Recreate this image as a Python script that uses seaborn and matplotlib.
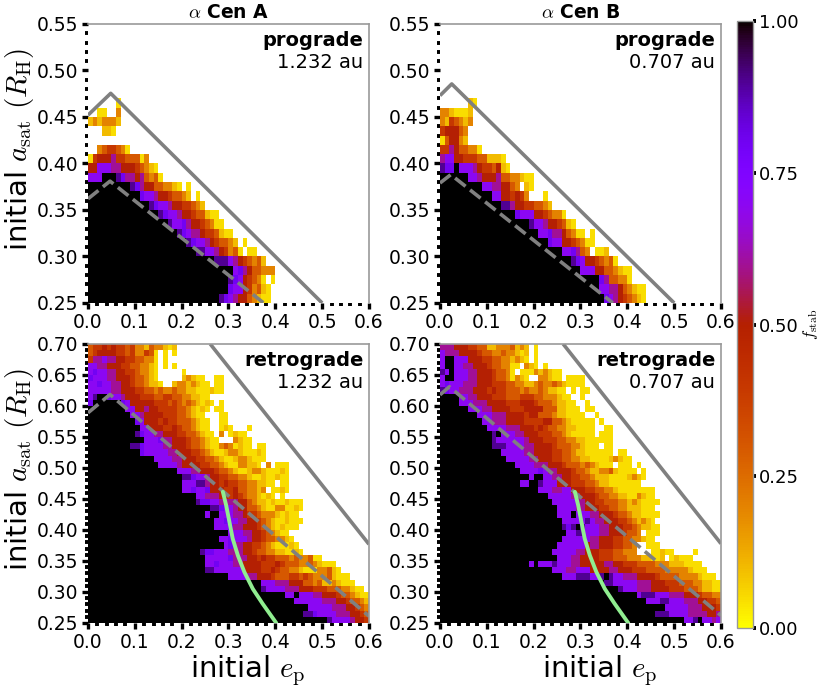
import numpy as np
import pandas as pd
import matplotlib
matplotlib.use("Agg")
import matplotlib.pyplot as plt
import seaborn as sns

sns.set_style("ticks")
plt.rcParams["font.family"] = ["DejaVu Sans"]
plt.rcParams["mathtext.fontset"] = "cm"
plt.rcParams["text.color"] = "black"
plt.rcParams["axes.labelcolor"] = "black"
plt.rcParams["xtick.color"] = "black"
plt.rcParams["ytick.color"] = "black"

# grid: e_p from 0 to 0.6, a_sat from 0.25 up, cells of 0.01 x 0.01
# codes: '.' = no value, 'X' = 1.0, digit d = d/10 ('0' ~ 0)
E_TICKS = [0.0, 0.1, 0.2, 0.3, 0.4, 0.5, 0.6]
A_TICKS_PRO = [0.25, 0.30, 0.35, 0.40, 0.45, 0.50, 0.55]
A_TICKS_RETRO = [0.25, 0.30, 0.35, 0.40, 0.45, 0.50, 0.55, 0.60, 0.65, 0.70]
CBAR_TICKS = [0.0, 0.25, 0.50, 0.75, 1.0]
STARS = [r"$\alpha$ Cen A", r"$\alpha$ Cen B"]
SEPARATIONS = ["1.232 au", "0.707 au"]

# prograde, alpha Cen A (top row first, a = 0.55 -> 0.25)
pro_a_rows = [
    "", "", "", "", "", "", "", "",
    "......0",
    "..00..2",
    "1212221",
    "...110",
    "",
    "..2344320",
    "0455564433302",
    "557776655543210",
    "777XXX9866563230",
    "X" * 9 + "98655332210.0",
    "X" * 11 + "87765543321.0",
    "X" * 13 + "987765544321",
    "X" * 15 + "9877655433100",
    "X" * 17 + "977865543200",
    "X" * 19 + "987665443100",
    "X" * 21 + "98776543321.0",
    "X" * 23 + "9977654230.00",
    "X" * 27 + "99976543231",
    "X" * 31 + "786533222",
    "X" * 30 + "98754320.0",
    "X" * 30 + "877542310",
    "X" * 28 + "98765532100",
]

# prograde, alpha Cen B
pro_b_rows = [
    "", "", "", "", "", "", "", "",
    "......10",
    "2210001",
    "2143212",
    "455532",
    "035521",
    "446533220",
    "67755444331110",
    "988X77765443510",
    "X" * 6 + "77655563322100",
    "X" * 9 + "77665532.10",
    "X" * 11 + "77554542...0",
    "X" * 13 + "99655443321",
    "X" * 16 + "87775543220",
    "X" * 19 + "9776554310",
    "X" * 21 + "7786653200.0",
    "X" * 23 + "8775543200",
    "X" * 26 + "778632.001",
    "X" * 28 + "9875543230",
    "X" * 30 + "77755332100",
    "X" * 34 + "8633220",
    "X" * 34 + "7766532100",
    "X" * 35 + "876543210",
]

# retrograde, alpha Cen A (a = 0.70 -> 0.25)
retro_a_rows = [
    "3445454434221322101",
    "345555443422430.0.0",
    "466766554433220.0",
    "776655544332210.0.0",
    "787766554432210.....0",
    "877766555433210.....12100..00",
    "7787766554332110..12212100.00",
    "77777665554433232232211000100",
    "79XX8776555444334433221100",
    "8XXXXXX87555554443432321010.0",
    "XXXXXXXX775565544443321010.00",
    "X" * 9 + "7765555444332100...00",
    "X" * 10 + "8755545443332100..00",
    "X" * 11 + "775554454332100..010...0",
    "X" * 10 + "98776655544332100.2.0100",
    "X" * 12 + "7778665554332100...2100",
    "X" * 9 + "99877776655543321002320100.00",
    "X" * 11 + "877777665554432100122100010",
    "X" * 14 + "777766555443321001221000",
    "X" * 15 + "7777655554433210022110.2.000",
    "X" * 19 + "777665554332100122100010",
    "X" * 20 + "99877655443322100100100",
    "X" * 20 + "77799655454433221100.00",
    "X" * 20 + "778778555445332212.0010",
    "X" * 23 + "77666554543221010.0",
    "X" * 23 + "98877666655321101001000",
    "X" * 26 + "99877655332100220010",
    "X" * 25 + "7XX77766544322210100",
    "X" * 27 + "7787766554321001000",
    "X" * 27 + "777866555432101000",
    "X" * 30 + "7776655432100",
    "X" * 28 + "7787776554332210",
    "X" * 29 + "7866554432100010",
    "X" * 24 + "9887776665543322110010",
    "X" * 25 + "7777786665545443332322300",
    "X" * 25 + "7787776655554445433322321000",
    "X" * 25 + "99777777555544543322100022310",
    "X" * 30 + "77776655543334434322231000",
    "X" * 37 + "77766655533231121000",
    "X" * 37 + "9777766655544433322100",
    "X" * 42 + "77X777665554332100",
    "X" * 44 + "7777776665543321",
    "X" * 47 + "7777766655432",
    "X" * 46 + "99877776665543",
    "X" * 51 + "977776554",
]

# retrograde, alpha Cen B
retro_b_rows = [
    "6665554433112223121.0",
    "7666555543322322101.0",
    "7XX7775554433221210.0",
    "7XX77665554332200.210.0",
    "97X7776655543320.000212100",
    "7XX7776655543320210..22100.0000",
    "7877766655544433221123223210000",
    "98776665554544333232232110" + "0.0.00",
    "XXXX" + "776655544433344433222100" + "..0",
    "XXXX" + "7776665555444555433321100" + "..0",
    "X" * 6 + "777665555444555533311000" + ".00",
    "X" * 8 + "77766655554553332110000" + "..0",
    "X" * 9 + "776665555444455332100000" + ".0",
    "X" * 10 + "77776665554543322110000" + "..00",
    "X" * 11 + "9X77766555444332100000" + ".000",
    "X" * 11 + "97777776555444332211000000",
    "X" * 11 + "99977776655554333221000" + ".00",
    "X" * 13 + "777776655554433211000000" + ".00",
    "X" * 14 + "777776655544332211000012100",
    "X" * 16 + "777766655543332321000" + ".000.0",
    "X" * 17 + "7777876655543321122310000" + ".0",
    "X" * 19 + "7XX7766554433211100001210",
    "X" * 17 + "77XX9777555444332110000000",
    "X" * 21 + "7776677555443322100000000",
    "X" * 23 + "77777665554332211002100",
    "X" * 24 + "77777665544333221210000",
    "X" * 25 + "777766555443322111000",
    "X" * 25 + "777X777665554332110000",
    "X" * 26 + "77777976655544321210",
    "X" * 26 + "989X97776655544321100",
    "X" * 27 + "7799777665554332" + ".000",
    "X" * 26 + "77777766555443322100",
    "X" * 25 + "77777756655544332" + "..000",
    "X" * 24 + "777776655544433222" + "...00100....0",
    "X" * 25 + "77766555544433322211001" + ".01000",
    "X" * 19 + "7X7779777" + "66555556655" + "4443333222" + "1110000",
    "X" * 24 + "777667775555665554443333222221000",
    "X" * 26 + "777999779X9" + "7766655554" + "3333222210" + "00",
    "X" * 35 + "9977777666555444333221100",
    "X" * 38 + "9777666555544433321100",
    "X" * 42 + "799977766655543322",
    "X" * 44 + "7779977766655443",
    "X" * 48 + "777776665554",
    "X" * 46 + "99977776666556",
    "X" * 52 + "779X7767",
]

# stability limits (e_p, a_sat)
pro_a_solid_e, pro_a_solid_a = [0.0, 0.0485, 0.5], [0.452, 0.4754, 0.25]
pro_a_dash_e, pro_a_dash_a = [0.0, 0.047, 0.375], [0.362, 0.381, 0.25]
pro_b_solid_e, pro_b_solid_a = [0.0, 0.025, 0.5], [0.473, 0.4855, 0.25]
pro_b_dash_e, pro_b_dash_a = [0.0, 0.023, 0.369], [0.379, 0.388, 0.25]
retro_a_solid_e, retro_a_solid_a = [0.261, 0.6], [0.70, 0.377]
retro_a_dash_e, retro_a_dash_a = [0.0, 0.047, 0.6], [0.589, 0.6185, 0.261]
retro_b_solid_e, retro_b_solid_a = [0.263, 0.6], [0.70, 0.378]
retro_b_dash_e, retro_b_dash_a = [0.0, 0.02, 0.6], [0.618, 0.631, 0.262]
green_e = [0.288, 0.295, 0.302, 0.309, 0.320, 0.334, 0.352, 0.373, 0.402]
green_a = [0.4615, 0.440, 0.413, 0.386, 0.359, 0.332, 0.305, 0.281, 0.25]

CODES = {".": np.nan, "X": 1.0, "0": 0.05}
CODES.update({str(d): d / 10 for d in range(1, 10)})


def decode(rows):
    grid = [[CODES[c] for c in r.ljust(60, ".")[:60]] for r in rows]
    return pd.DataFrame(np.array(grid, dtype=float))


panels = [
    (pro_a_rows, 0.55, A_TICKS_PRO, pro_a_solid_e, pro_a_solid_a, pro_a_dash_e, pro_a_dash_a, False, "prograde", SEPARATIONS[0]),
    (pro_b_rows, 0.55, A_TICKS_PRO, pro_b_solid_e, pro_b_solid_a, pro_b_dash_e, pro_b_dash_a, False, "prograde", SEPARATIONS[1]),
    (retro_a_rows, 0.70, A_TICKS_RETRO, retro_a_solid_e, retro_a_solid_a, retro_a_dash_e, retro_a_dash_a, True, "retrograde", SEPARATIONS[0]),
    (retro_b_rows, 0.70, A_TICKS_RETRO, retro_b_solid_e, retro_b_solid_a, retro_b_dash_e, retro_b_dash_a, True, "retrograde", SEPARATIONS[1]),
]

fig = plt.figure(figsize=(8.31, 6.87), dpi=100)
positions = [
    [0.1059, 0.5590, 0.3381, 0.4061],
    [0.5295, 0.5590, 0.3381, 0.4061],
    [0.1059, 0.0932, 0.3381, 0.4061],
    [0.5295, 0.0932, 0.3381, 0.4061],
]
cax = fig.add_axes([0.8869, 0.0859, 0.0193, 0.8835])

for i, (rows, a_top, a_ticks, se, sa, de, da, green, orbit, sep) in enumerate(panels):
    ax = fig.add_axes(positions[i])
    data = decode(rows)
    sns.heatmap(data, ax=ax, cmap="gnuplot_r", vmin=0, vmax=1,
                cbar=(i == 0), cbar_ax=cax if i == 0 else None,
                xticklabels=False, yticklabels=False)

    def to_xy(e, a):
        return np.array(e) * 100, (a_top - np.array(a)) * 100

    x, y = to_xy(se, sa)
    ax.plot(x, y, color="gray", lw=2.6, solid_capstyle="butt")
    x, y = to_xy(de, da)
    ax.plot(x, y, color="gray", lw=2.6, ls="--")
    if green:
        x, y = to_xy(green_e, green_a)
        ax.plot(x, y, color="lightgreen", lw=2.8)

    n_rows = data.shape[0]
    ax.set_xlim(0, 60)
    ax.set_ylim(n_rows, 0)
    ax.set_xticks([e * 100 for e in E_TICKS], labels=[f"{e:.1f}" for e in E_TICKS])
    ax.set_xticks(np.arange(0, 61, 2), minor=True)
    ax.set_yticks([(a_top - a) * 100 for a in a_ticks], labels=[f"{a:.2f}" for a in a_ticks])
    ax.set_yticks(np.arange(0, n_rows + 1, 1), minor=True)
    ax.tick_params(which="major", direction="out", length=4, width=2.4,
                   labelsize=13.5, pad=3, color="black", labelcolor="black",
                   labelrotation=0)
    ax.tick_params(which="minor", direction="out", length=2.4, width=2.8, color="black")

    for side in ["top", "right"]:
        ax.spines[side].set_visible(True)
        ax.spines[side].set_color("0.6")
        ax.spines[side].set_linewidth(1.2)
    for side in ["left", "bottom"]:
        ax.spines[side].set_visible(False)

    ax.text(0.98, 0.975, orbit, transform=ax.transAxes, ha="right", va="top",
            fontsize=14, fontweight="bold")
    ax.text(0.98, 0.895, sep, transform=ax.transAxes, ha="right", va="top",
            fontsize=14)

    if i < 2:
        ax.set_title(STARS[i], fontsize=13.5, fontweight="bold", pad=4)
    if i % 2 == 0:
        ax.set_ylabel(r"initial $a_{\rm sat}$ $(R_{\rm H})$", fontsize=21)
        ax.yaxis.set_label_coords(-0.185, 0.55)
    if i >= 2:
        ax.set_xlabel(r"initial $e_{\rm p}$", fontsize=21)
        ax.xaxis.set_label_coords(0.57, -0.11)

cbar = fig.axes[1].collections[0].colorbar
cbar.set_ticks(CBAR_TICKS)
cbar.set_ticklabels([f"{t:.2f}" for t in CBAR_TICKS])
cbar.ax.tick_params(length=2.5, width=2.8, labelsize=13, pad=2, color="black",
                    labelcolor="black")
cbar.outline.set_edgecolor("0.6")
cbar.outline.set_linewidth(1.0)
cbar.set_label(r"$f_{\rm stab}$", fontsize=12, labelpad=1)

fig.savefig("out.png", dpi=100)
